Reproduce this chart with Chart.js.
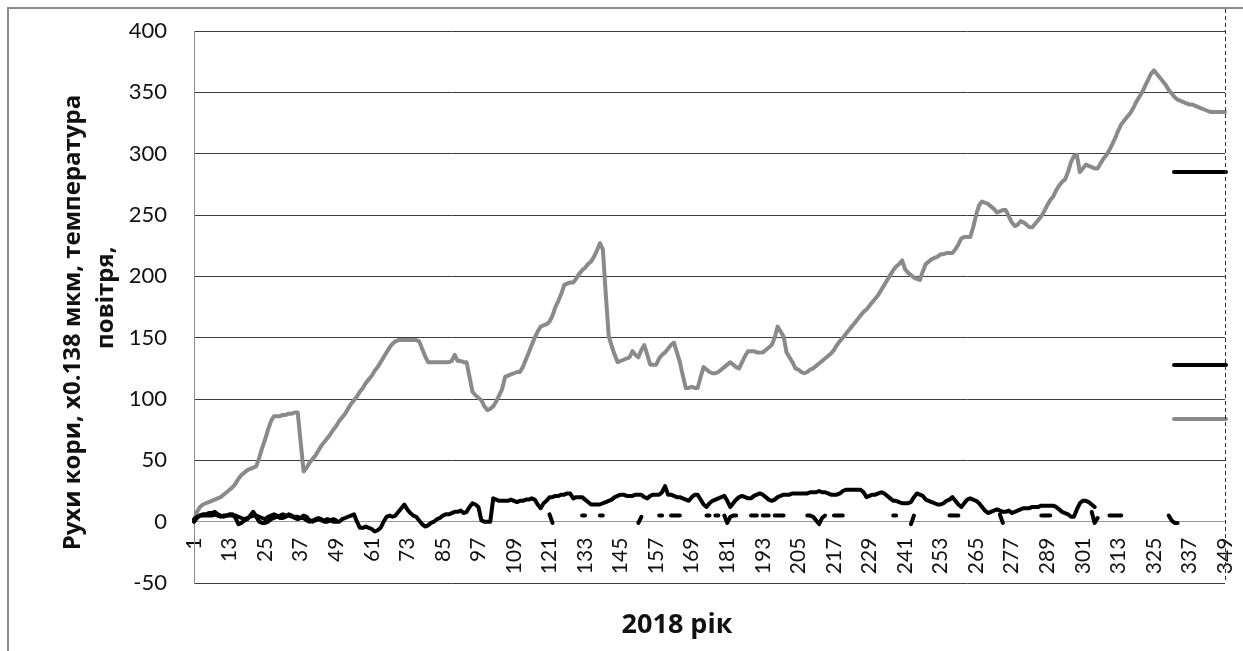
<!DOCTYPE html>
<html><head><meta charset="utf-8">
<script src="https://cdn.jsdelivr.net/npm/chart.js@4"></script>
<style>html,body{margin:0;padding:0;background:#fff;overflow:hidden}canvas{display:block}</style>
</head><body>
<canvas id="c" width="1243" height="651"></canvas>
<script>
const days = Array.from({length: 349}, (_, i) => i + 1);
const tickDays = [1,13,25,37,49,61,73,85,97,109,121,133,145,157,169,181,193,205,217,229,241,253,265,277,289,301,313,325,337,349];
const yTitle = ['Рухи кори, х0.138 мкм, температура     ', '   повітря,'];
const xTitle = '2018 рік';

const barkMovement = [
 0, 8, 12, 14, 15, 16, 17, 18, 19, 20,
 22, 24, 26, 28, 31, 35, 38, 40, 42, 43,
 44, 45, 52, 60, 67, 75, 82, 86, 86, 86,
 87, 87, 88, 88, 89, 89, 65, 41, 44, 48,
 51, 54, 58, 62, 65, 68, 71, 75, 78, 82,
 85, 88, 92, 96, 99, 102, 106, 109, 113, 116,
 119, 123, 126, 130, 134, 138, 142, 145, 147, 148,
 148, 148, 148, 148, 148, 148, 147, 141, 135, 130,
 130, 130, 130, 130, 130, 130, 130, 131, 136, 131,
 131, 130, 130, 118, 106, 103, 101, 99, 94, 91,
 92, 94, 98, 103, 108, 118, 119, 120, 121, 122,
 122, 126, 132, 138, 144, 150, 155, 159, 160, 161,
 163, 168, 175, 180, 186, 193, 194, 195, 195, 198,
 202, 205, 207, 210, 212, 216, 221, 227, 222, 185,
 151, 143, 136, 130, 131, 132, 133, 134, 139, 136,
 134, 140, 144, 136, 128, 128, 128, 133, 136, 138,
 141, 144, 146, 138, 130, 119, 109, 109, 110, 109,
 109, 118, 126, 124, 122, 121, 121, 122, 124, 126,
 128, 130, 128, 126, 125, 130, 135, 139, 139, 139,
 138, 138, 138, 140, 142, 144, 150, 159, 155, 151,
 138, 134, 130, 125, 124, 122, 121, 122, 124, 125,
 127, 129, 131, 133, 135, 137, 140, 144, 147, 150,
 153, 156, 159, 162, 165, 168, 171, 173, 176, 179,
 182, 185, 189, 193, 197, 201, 205, 208, 210, 213,
 206, 203, 201, 199, 198, 197, 204, 210, 212, 214,
 215, 216, 218, 218, 219, 219, 219, 222, 226, 231,
 232, 232, 232, 240, 250, 258, 261, 260, 259, 257,
 255, 252, 253, 254, 254, 249, 244, 241, 242, 245,
 244, 242, 240, 240, 243, 246, 249, 253, 258, 262,
 265, 270, 274, 277, 279, 285, 293, 298, 299, 285,
 288, 291, 290, 289, 288, 288, 292, 296, 299, 303,
 308, 313, 319, 324, 327, 330, 333, 337, 342, 346,
 350, 355, 360, 365, 368, 365, 362, 359, 356, 352,
 349, 346, 344, 343, 342, 341, 340, 340, 339, 338,
 337, 336, 335, 334, 334, 334, 334, 334, 334
];

const airTempA = [
 2, 4, 5, 6, 6, 7, 7, 8, 6, 5,
 4, 5, 6, 6, 3, -2, -1, 1, 2, 5,
 8, 4, 0, -1, -1, 0, 2, 3, 4, 5,
 6, 5, 5, 4, 4, 4, 3, 3, 1, 0,
 1, 1, 2, 1, 1, 2, 1, 0, 0, 0,
 2, 3, 4, 5, 6, 0, -5, -5, -4, -5,
 -6, -8, -7, -5, 0, 4, 5, 4, 5, 8,
 11, 14, 10, 7, 5, 4, 1, -2, -4, -3,
 -1, 0, 2, 3, 5, 6, 6, 7, 8, 8,
 9, 7, 8, 12, 15, 14, 12, 1, 0, 0,
 0, 19, 18, 17, 17, 17, 17, 18, 17, 16,
 17, 17, 18, 18, 19, 18, 14, 11, 15, 17,
 20, 20, 21, 21, 22, 22, 23, 23, 19, 20,
 20, 20, 18, 16, 14, 14, 14, 14, 15, 16,
 17, 18, 20, 21, 22, 22, 21, 21, 21, 22,
 22, 22, 20, 19, 21, 22, 22, 22, 24, 29,
 22, 22, 21, 20, 20, 19, 18, 17, 20, 22,
 22, 18, 14, 12, 15, 17, 18, 19, 20, 21,
 17, 12, 15, 18, 20, 21, 20, 19, 19, 21,
 22, 23, 22, 20, 18, 17, 18, 20, 21, 22,
 22, 22, 23, 23, 23, 23, 23, 23, 24, 24,
 24, 25, 24, 24, 23, 22, 22, 22, 23, 25,
 26, 26, 26, 26, 26, 26, 24, 20, 21, 22,
 22, 23, 24, 23, 21, 19, 17, 17, 16, 15,
 15, 15, 16, 20, 23, 22, 21, 18, 17, 16,
 15, 14, 14, 15, 17, 18, 20, 17, 14, 12,
 15, 18, 19, 18, 17, 15, 12, 9, 7, 8,
 9, 10, 9, 8, 8, 9, 7, 8, 9, 10,
 11, 11, 11, 12, 12, 12, 13, 13, 13, 13,
 13, 12, 10, 8, 7, 6, 4, 4, 10, 15,
 17, 17, 16, 14, 12, null, null, null, null, null,
 null, null, null, null, null, null, null, null, null, null,
 null, null, null, null, null, null, null, null, null, null,
 null, null, null, null, null, null, null, null, null, null,
 null, null, null, null, null, null, null, null, null
];

const airTempB = [
 0, 3, 5, 5, 5, 5, 5, 6, 5, 4,
 5, 5, 5, 5, 5, 4, 3, 2, 3, 4,
 5, 5, 4, 3, 2, 4, 5, 6, 5, 3,
 3, 4, 6, 5, 3, 2, 3, 5, 4, 1,
 0, 2, 3, 2, 0, 0, 1, 2, 1, null,
 null, null, null, null, null, null, null, null, null, null,
 null, null, null, null, null, null, null, null, null, null,
 null, null, null, null, null, null, null, null, null, null,
 null, null, null, null, null, null, null, null, null, null,
 null, null, null, null, null, null, null, null, null, null,
 null, null, null, null, null, null, null, null, null, null,
 null, null, null, null, null, null, null, null, null, null,
 6, -1, null, null, null, null, null, null, null, null,
 null, 5, 5, null, null, null, null, 5, 5, null,
 null, null, null, null, null, null, null, null, null, null,
 -1, 4, null, null, null, null, null, 5, 5, null,
 null, 5, 5, 5, 5, null, null, null, null, null,
 null, null, null, 5, 5, null, 5, 5, null, 5,
 -1, 4, 5, 5, null, null, null, null, 5, 5,
 5, null, 5, 5, 5, null, 5, 5, 5, 5,
 null, null, null, null, null, null, null, 5, 5, 4,
 1, -2, 3, 5, null, null, 5, 5, 5, 5,
 null, null, null, null, null, null, null, null, null, null,
 null, null, null, null, null, null, 5, 5, null, null,
 null, null, -2, 5, null, null, null, null, null, null,
 null, null, null, null, null, 5, 5, 5, 5, null,
 null, null, null, null, null, null, null, null, null, null,
 null, null, 6, -1, null, null, null, null, null, null,
 null, null, null, null, null, null, 5, 5, 5, 5,
 null, null, null, null, null, null, null, null, null, null,
 null, null, null, 8, -1, 3, null, null, null, 5,
 5, 5, 5, 5, null, null, null, null, null, null,
 null, null, null, null, null, null, null, null, null, 5,
 1, -1, -1, null, null, null, null, null, null, null,
 null, null, null, null, null, null, null, null, null
];

const decor = {
  id: 'decor',
  beforeDraw(chart) {
    const ctx = chart.ctx;
    ctx.save();
    ctx.fillStyle = '#fff';
    ctx.fillRect(0, 0, chart.width, chart.height);
    ctx.strokeStyle = '#8c8c8c';
    ctx.lineWidth = 2;
    ctx.strokeRect(8, 8, chart.width + 40, chart.height + 40);
    ctx.restore();
  },
  afterDraw(chart) {
    const ctx = chart.ctx;
    const a = chart.chartArea;
    ctx.save();
    ctx.lineCap = 'round';
    ctx.lineWidth = 4;
    const samples = [[172, '#000'], [365, '#000'], [419, '#8a8a8a']];
    samples.forEach(([y, c]) => {
      ctx.strokeStyle = c;
      ctx.beginPath();
      ctx.moveTo(a.right - 51, y);
      ctx.lineTo(a.right + 1, y);
      ctx.stroke();
    });
    ctx.lineCap = 'butt';
    ctx.lineWidth = 1;
    ctx.strokeStyle = '#333';
    ctx.setLineDash([4, 3]);
    ctx.beginPath();
    ctx.moveTo(Math.round(a.right) + 0.5, 9);
    ctx.lineTo(Math.round(a.right) + 0.5, a.bottom);
    ctx.stroke();
    ctx.setLineDash([]);
    ctx.fillStyle = '#111';
    ctx.font = 'bold 27px "Open Sans"';
    ctx.textAlign = 'center';
    ctx.textBaseline = 'middle';
    ctx.fillText(xTitle, 677, a.bottom + 42);
    ctx.restore();
  }
};

const lineStyle = {pointRadius: 0, borderWidth: 4, tension: 0, spanGaps: false, borderJoinStyle: 'round', borderCapStyle: 'round', fill: false};

new Chart(document.getElementById('c'), {
  type: 'line',
  data: {
    labels: days,
    datasets: [
      Object.assign({label: 'airTempA', data: airTempA, borderColor: '#000'}, lineStyle),
      Object.assign({label: 'airTempB', data: airTempB, borderColor: '#000'}, lineStyle),
      Object.assign({label: 'barkMovement', data: barkMovement, borderColor: '#8a8a8a'}, lineStyle)
    ]
  },
  options: {
    responsive: false,
    animation: false,
    devicePixelRatio: 1,
    layout: {padding: {left: 0, right: 18, top: 31, bottom: 68}},
    plugins: {
      legend: {display: false},
      tooltip: {enabled: false},
      title: {display: false}
    },
    scales: {
      x: {
        type: 'category',
        position: {y: 0},
        offset: false,
        grid: {display: false, drawTicks: false},
        border: {display: true, color: '#9a9a9a', width: 1},
        ticks: {autoSkip: false, minRotation: 90, maxRotation: 90, padding: 16, color: '#111',
          font: {family: 'Lato', size: 21},
          callback: (v, i) => tickDays.includes(days[i]) ? String(days[i]) : ''},
        afterFit(s) { s.paddingLeft = 0; s.paddingRight = 0; s.paddingTop = 0; s.paddingBottom = 0; }
      },
      y: {
        min: -50, max: 400,
        ticks: {stepSize: 50, padding: 27, color: '#111', font: {family: 'Lato', size: 22}},
        grid: {drawTicks: false, lineWidth: 1, color: c => (c.tick && c.tick.value === 0) ? '#a0a0a0' : '#3c3c3c'},
        border: {display: true, color: '#8c8c8c', width: 1},
        title: {display: true, text: yTitle, color: '#111',
          font: {family: 'Open Sans', size: 24, weight: 'bold', lineHeight: 1.39},
          padding: {top: 56, bottom: 0}},
        afterFit(s) { s.width = 194; s.paddingTop = 0; s.paddingBottom = 0; }
      }
    }
  },
  plugins: [decor]
});
</script>
</body></html>
